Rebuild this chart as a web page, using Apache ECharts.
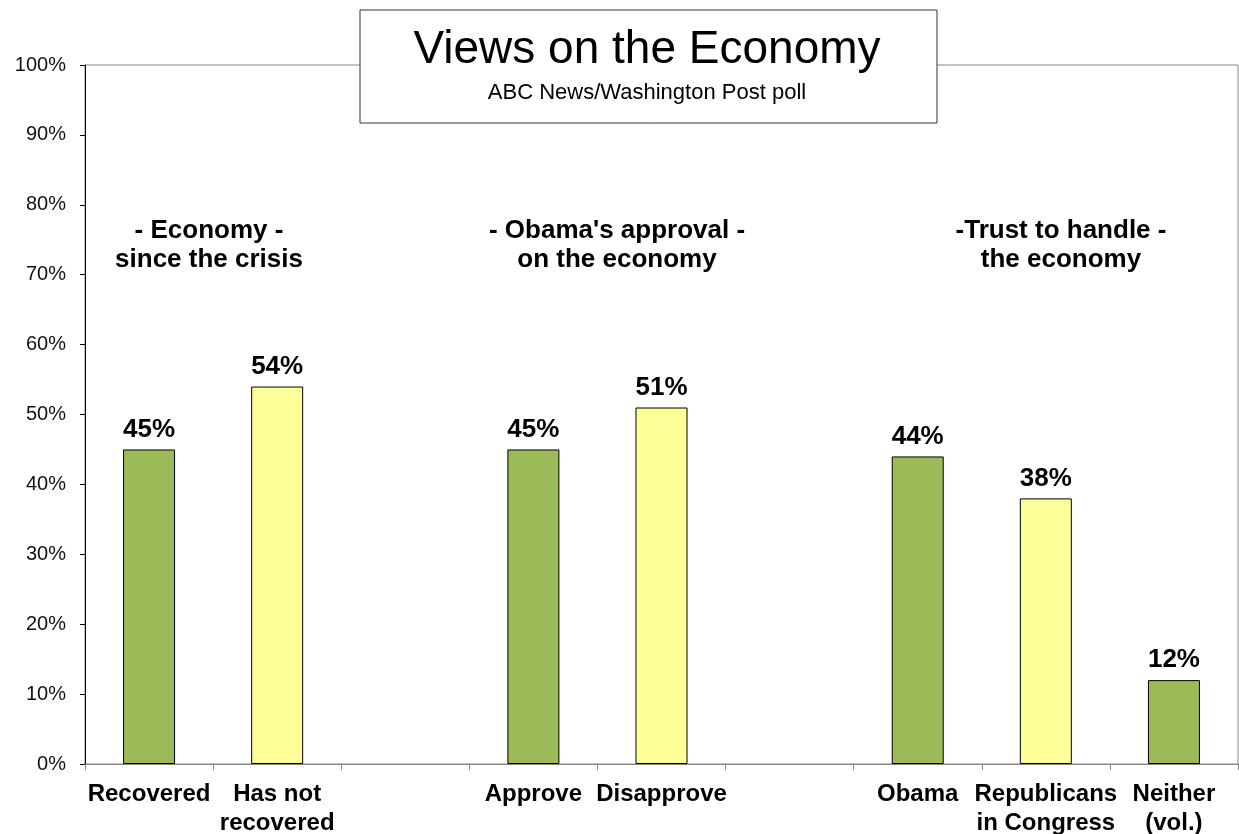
<!DOCTYPE html>
<html>
<head>
<meta charset="utf-8">
<script src="https://cdn.jsdelivr.net/npm/echarts@6/dist/echarts.min.js"></script>
<style>
html,body{margin:0;padding:0;background:#fff;}
#main{width:1239px;height:834px;}
</style>
</head>
<body>
<div id="main"></div>
<script>
const categories = ['Recovered', 'Has not\nrecovered', '', 'Approve', 'Disapprove', '', 'Obama', 'Republicans\nin Congress', 'Neither\n(vol.)'];
const values = [45, 54, null, 45, 51, null, 44, 38, 12];
const yTicks = [0, 10, 20, 30, 40, 50, 60, 70, 80, 90, 100];
const groupTitles = ['- Economy -\nsince the crisis', "- Obama's approval -\non the economy", '-Trust to handle -\nthe economy'];
const chartTitle = 'Views on the Economy';
const chartSubtitle = 'ABC News/Washington Post poll';

const GREEN = '#9BBB59', YELLOW = '#FFFF99';
const barColors = [GREEN, YELLOW, GREEN, GREEN, YELLOW, GREEN, GREEN, YELLOW, GREEN];
const FONT = 'Liberation Sans, Arial, sans-serif';

const chart = echarts.init(document.getElementById('main'));
const groupCenters = [209, 617, 1061];

chart.setOption({
  animation: false,
  backgroundColor: '#fff',
  grid: { left: 85, right: 1, top: 65, bottom: 70, show: true, borderColor: '#888', borderWidth: 1, containLabel: false, outerBoundsMode: 'none' },
  xAxis: {
    type: 'category',
    data: categories,
    axisLine: { lineStyle: { color: '#888', width: 1 } },
    axisTick: { show: true, length: 6, lineStyle: { color: '#888' } },
    axisLabel: { interval: 0, margin: 16, color: '#000', fontFamily: FONT, fontWeight: 'bold', fontSize: 24, lineHeight: 29 }
  },
  yAxis: {
    type: 'value',
    min: yTicks[0], max: yTicks[yTicks.length - 1], interval: 10,
    splitLine: { show: false },
    axisLine: { show: true, lineStyle: { color: '#000', width: 1 } },
    axisTick: { show: true, length: 5, lineStyle: { color: '#000' } },
    axisLabel: { margin: 19, color: '#111', fontFamily: FONT, fontSize: 20, formatter: '{value}%' }
  },
  series: [{
    type: 'bar',
    barWidth: 52,
    data: values.map((v, i) => v === null ? '-' : { value: v, itemStyle: { color: barColors[i] } }),
    itemStyle: { borderColor: '#000', borderWidth: 1 },
    label: { show: true, position: 'top', distance: 7, formatter: '{c}%', color: '#000', fontFamily: FONT, fontWeight: 'bold', fontSize: 26 }
  }],
  graphic: [
    { type: 'rect', shape: { x: 360, y: 10, width: 577, height: 113 }, style: { fill: '#fff', stroke: '#333', lineWidth: 1 }, z: 10 },
    { type: 'text', x: 647, y: 50, z: 11, style: { text: chartTitle, fill: '#000', font: '46px ' + FONT, textAlign: 'center', textVerticalAlign: 'middle' } },
    { type: 'text', x: 647, y: 93, z: 11, style: { text: chartSubtitle, fill: '#000', font: '22px ' + FONT, textAlign: 'center', textVerticalAlign: 'middle' } }
  ].concat(groupTitles.map((t, i) => ({
    type: 'text', x: groupCenters[i], y: 245, z: 11,
    style: { text: t, fill: '#000', font: 'bold 26px ' + FONT, lineHeight: 29, textAlign: 'center', textVerticalAlign: 'middle' }
  })))
});
</script>
</body>
</html>
